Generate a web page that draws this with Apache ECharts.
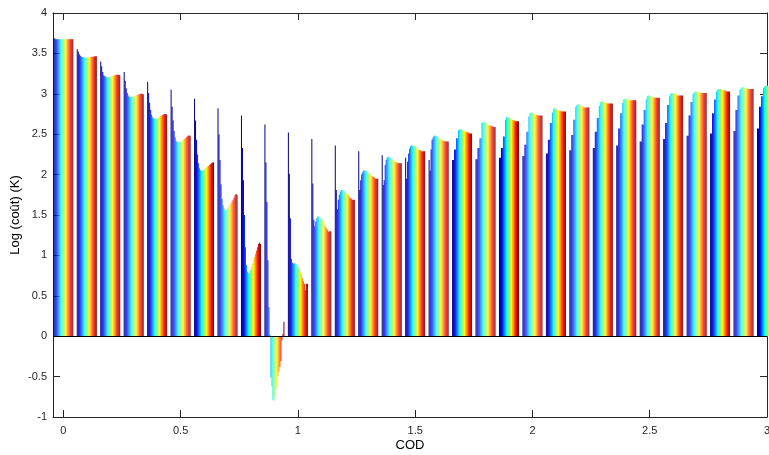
<!DOCTYPE html>
<html><head><meta charset="utf-8">
<script src="https://cdn.jsdelivr.net/npm/echarts@6/dist/echarts.min.js"></script>
<style>html,body{margin:0;padding:0;background:#fff}#c{width:769px;height:455px}</style>
</head><body><div id="c"></div>
<script>
// Group centres (COD) and tick labels
const cod = [0,0.1,0.2,0.3,0.4,0.5,0.6,0.7,0.8,0.9,1.0,1.1,1.2,1.3,1.4,1.5,1.6,1.7,1.8,1.9,2.0,2.1,2.2,2.3,2.4,2.5,2.6,2.7,2.8,2.9,3.0];
const xTicks = [0,0.5,1,1.5,2,2.5,3];

// Bar heights per group (one value per series, blue -> red)
const g00 = [3.69,3.685,3.675,3.675,3.675,3.675,3.675,3.675,3.675,3.675,3.675,3.675,3.675,3.675,3.675,3.675,3.675,3.675,3.675,3.675];
const g01 = [3.55,3.52,3.49,3.47,3.46,3.455,3.45,3.45,3.45,3.45,3.45,3.45,3.455,3.455,3.46,3.46,3.46,3.465,3.465,3.465];
const g02 = [3.40,3.34,3.27,3.23,3.22,3.21,3.205,3.205,3.205,3.21,3.21,3.215,3.22,3.225,3.23,3.23,3.235,3.235,3.235,3.23];
const g03 = [3.27,3.16,3.07,3.01,2.98,2.965,2.96,2.96,2.96,2.965,2.97,2.975,2.98,2.985,2.99,2.995,3.0,3.0,3.0,2.995];
const g04 = [3.15,3.01,2.89,2.80,2.74,2.71,2.695,2.69,2.69,2.695,2.70,2.71,2.72,2.725,2.73,2.74,2.745,2.75,2.75,2.745];
const g05 = [3.05,2.84,2.67,2.54,2.46,2.42,2.405,2.40,2.40,2.405,2.41,2.42,2.43,2.44,2.45,2.46,2.47,2.48,2.485,2.48];
const g06 = [2.94,2.67,2.43,2.25,2.14,2.08,2.055,2.05,2.05,2.055,2.065,2.08,2.09,2.10,2.11,2.12,2.13,2.14,2.15,2.15];
const g07 = [2.82,2.50,2.18,1.88,1.70,1.62,1.58,1.56,1.56,1.57,1.59,1.61,1.63,1.65,1.67,1.69,1.71,1.74,1.76,1.75];
const g08 = [2.73,2.33,1.93,1.50,1.10,0.88,0.80,0.78,0.79,0.82,0.86,0.90,0.94,0.98,1.02,1.06,1.10,1.14,1.16,1.14];
const g09 = [2.62,2.15,1.66,0.94,0.36,0.02,-0.51,-0.62,-0.79,-0.80,-0.74,-0.66,-0.62,-0.50,-0.44,-0.38,-0.31,-0.05,0.03,0.18];
const g10 = [2.52,2.01,1.46,0.96,0.91,0.90,0.90,0.90,0.89,0.87,0.85,0.82,0.79,0.76,0.72,0.68,0.65,0.57,0.65,0.65];
const g11 = [2.44,1.89,1.44,1.36,1.42,1.46,1.48,1.48,1.47,1.46,1.45,1.43,1.41,1.38,1.35,1.33,1.31,1.29,1.30,1.30];
const g12 = [2.36,1.81,1.57,1.69,1.75,1.79,1.81,1.81,1.80,1.79,1.78,1.77,1.76,1.75,1.73,1.71,1.70,1.69,1.69,1.69];
const g13 = [2.29,1.81,1.93,2.00,2.03,2.05,2.05,2.05,2.04,2.03,2.02,2.01,2.00,1.99,1.98,1.97,1.96,1.95,1.95,1.95];
const g14 = [2.24,1.87,1.93,2.12,2.18,2.21,2.22,2.22,2.21,2.20,2.19,2.18,2.17,2.16,2.15,2.15,2.14,2.14,2.14,2.14];
const g15 = [2.21,1.95,2.16,2.26,2.32,2.35,2.36,2.36,2.36,2.35,2.34,2.33,2.32,2.31,2.30,2.30,2.29,2.29,2.29,2.29];
const g16 = [2.18,2.05,2.31,2.43,2.46,2.48,2.48,2.48,2.47,2.46,2.45,2.44,2.43,2.43,2.42,2.42,2.41,2.41,2.41,2.41];
const g17 = [2.18,2.18,2.31,2.31,2.45,2.45,2.55,2.56,2.56,2.56,2.55,2.54,2.54,2.53,2.53,2.52,2.52,2.51,2.51,2.51];
const g18 = [2.19,2.19,2.33,2.33,2.45,2.45,2.64,2.65,2.65,2.65,2.64,2.63,2.62,2.61,2.61,2.60,2.60,2.59,2.59,2.59];
const g19 = [2.21,2.21,2.33,2.33,2.47,2.47,2.68,2.71,2.71,2.71,2.70,2.69,2.68,2.68,2.67,2.67,2.66,2.66,2.66,2.66];
const g20 = [2.23,2.23,2.37,2.37,2.53,2.53,2.72,2.76,2.77,2.77,2.76,2.75,2.75,2.74,2.74,2.73,2.73,2.73,2.73,2.73];
const g21 = [2.26,2.26,2.43,2.43,2.64,2.64,2.77,2.81,2.82,2.82,2.81,2.80,2.80,2.79,2.79,2.78,2.78,2.78,2.78,2.78];
const g22 = [2.30,2.30,2.49,2.49,2.68,2.68,2.84,2.86,2.87,2.87,2.86,2.85,2.85,2.84,2.84,2.83,2.83,2.83,2.83,2.83];
const g23 = [2.33,2.33,2.53,2.53,2.70,2.70,2.85,2.89,2.91,2.91,2.90,2.90,2.89,2.89,2.88,2.88,2.88,2.88,2.88,2.88];
const g24 = [2.36,2.36,2.57,2.57,2.76,2.76,2.89,2.93,2.94,2.94,2.94,2.93,2.93,2.92,2.92,2.92,2.92,2.92,2.92,2.92];
const g25 = [2.41,2.41,2.62,2.62,2.80,2.80,2.93,2.97,2.98,2.98,2.97,2.97,2.96,2.96,2.95,2.95,2.95,2.95,2.95,2.95];
const g26 = [2.44,2.44,2.64,2.64,2.86,2.86,2.97,3.00,3.01,3.01,3.00,3.00,2.99,2.99,2.98,2.98,2.98,2.98,2.98,2.98];
const g27 = [2.48,2.48,2.73,2.73,2.90,2.90,3.00,3.02,3.03,3.03,3.03,3.02,3.02,3.02,3.01,3.01,3.01,3.01,3.01,3.01];
const g28 = [2.51,2.51,2.76,2.76,2.93,2.93,3.03,3.05,3.06,3.06,3.06,3.05,3.05,3.04,3.04,3.04,3.03,3.03,3.03,3.03];
const g29 = [2.54,2.54,2.80,2.80,2.98,2.98,3.05,3.07,3.08,3.08,3.08,3.07,3.07,3.07,3.06,3.06,3.06,3.06,3.06,3.06];
const g30 = [2.57,2.57,2.84,2.84,2.97,2.97,3.07,3.09,3.10,3.10,3.10,3.09,3.09,3.09,3.08,3.08,3.08,3.08,3.08,3.08];

const groups = [g00,g01,g02,g03,g04,g05,g06,g07,g08,g09,g10,g11,g12,g13,g14,g15,g16,g17,g18,g19,g20,g21,g22,g23,g24,g25,g26,g27,g28,g29,g30];
const nSeries = g00.length;

function jet(t){
  const c = v => Math.max(0, Math.min(1, v));
  const r = c(1.5 - Math.abs(4*t - 3));
  const g = c(1.5 - Math.abs(4*t - 2));
  const b = c(1.5 - Math.abs(4*t - 1));
  return 'rgb(' + Math.round(r*255) + ',' + Math.round(g*255) + ',' + Math.round(b*255) + ')';
}

const axisColor = '#262626';
const font = 'Liberation Sans, Arial, Helvetica, sans-serif';

const series = [];
for (let s = 0; s < nSeries; s++) {
  const ser = {
    type: 'bar',
    xAxisIndex: 0, yAxisIndex: 0,
    barGap: '0%', barCategoryGap: '20%',
    silent: true,
    itemStyle: { color: jet(s/(nSeries-1)) },
    data: cod.map((x, i) => [x, groups[i][s]])
  };
  if (s === nSeries - 1) {
    ser.markLine = {
      silent: true, symbol: 'none', label: { show: false },
      lineStyle: { color: '#000', width: 1, type: 'solid' },
      data: [{ yAxis: 0 }]
    };
  }
  series.push(ser);
}

const chart = echarts.init(document.getElementById('c'), null, { renderer: 'canvas' });
chart.setOption({
  animation: false,
  backgroundColor: '#fff',
  grid: { left: 53, top: 13, right: 2, bottom: 38, containLabel: false, outerBoundsMode: 'none' },
  xAxis: [
    {
      type: 'value', min: -0.044, max: 3, position: 'bottom',
      name: 'COD', nameLocation: 'middle', nameGap: 22, nameMoveOverlap: false,
      nameTextStyle: { color: '#000', fontSize: 13, fontFamily: font },
      axisLine: { show: true, onZero: false, lineStyle: { color: axisColor } },
      axisTick: { show: true, inside: true, length: 7, customValues: xTicks, lineStyle: { color: axisColor } },
      axisLabel: { customValues: xTicks, color: axisColor, fontSize: 11, fontFamily: font, margin: 8 },
      splitLine: { show: false }
    },
    {
      type: 'value', min: -0.044, max: 3, position: 'top',
      axisLine: { show: true, onZero: false, lineStyle: { color: axisColor } },
      axisTick: { show: true, inside: true, length: 7, customValues: xTicks, lineStyle: { color: axisColor } },
      axisLabel: { show: false },
      splitLine: { show: false }
    }
  ],
  yAxis: [
    {
      type: 'value', min: -1, max: 4, interval: 0.5, position: 'left',
      name: 'Log (coût) (K)', nameLocation: 'middle', nameGap: 31, nameRotate: 90, nameMoveOverlap: false,
      nameTextStyle: { color: '#000', fontSize: 13, fontFamily: font },
      axisLine: { show: true, onZero: false, lineStyle: { color: axisColor } },
      axisTick: { show: true, inside: true, length: 7, lineStyle: { color: axisColor } },
      axisLabel: { color: axisColor, fontSize: 11, fontFamily: font, margin: 6 },
      splitLine: { show: false }
    },
    {
      type: 'value', min: -1, max: 4, interval: 0.5, position: 'right',
      axisLine: { show: true, onZero: false, lineStyle: { color: axisColor } },
      axisTick: { show: true, inside: true, length: 7, lineStyle: { color: axisColor } },
      axisLabel: { show: false },
      splitLine: { show: false }
    }
  ],
  series: series
});
</script>
</body></html>
